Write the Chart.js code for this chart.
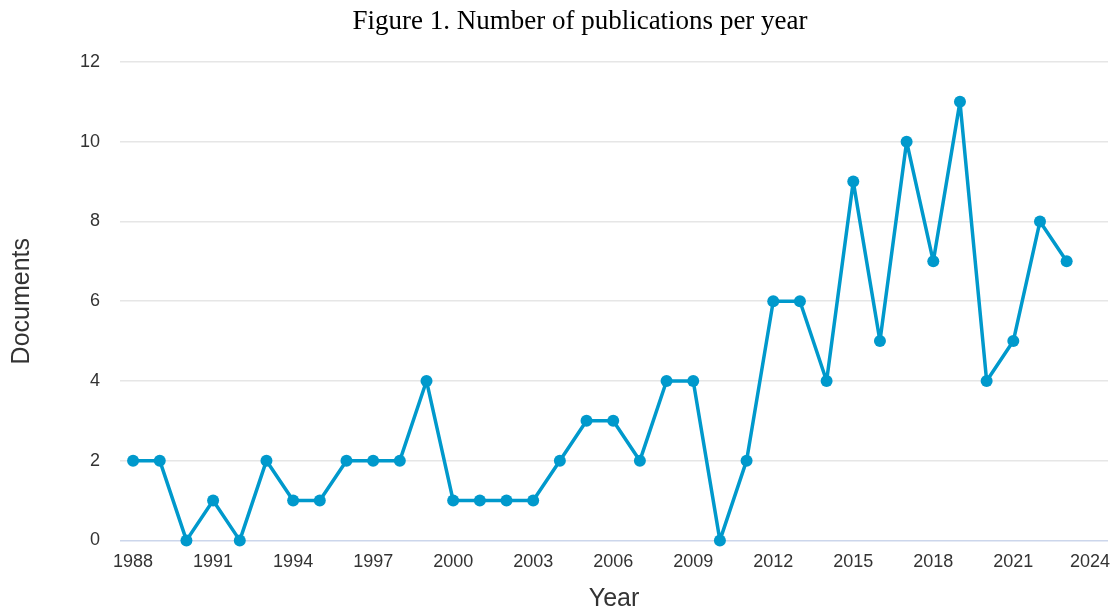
<!DOCTYPE html>
<html>
<head>
<meta charset="utf-8">
<script src="https://cdn.jsdelivr.net/npm/chart.js@4.4.1/dist/chart.umd.min.js"></script>
<style>
  html, body { margin: 0; padding: 0; background: #fff; }
  #wrap { position: relative; width: 1114px; height: 609px; }
  #titulo {
    position: absolute; top: 5px; left: 580px; transform: translateX(-50%);
    font-family: "Liberation Serif", "Times New Roman", serif; font-size: 27px; color: #000;
    white-space: nowrap;
  }
  #cv { position: absolute; left: 0; top: 0; }
</style>
</head>
<body>
<div id="wrap">
  <canvas id="cv" width="1114" height="609"></canvas>
  <div id="titulo">Figure 1. Number of publications per year</div>
</div>
<script>
// dados
const anos = [1988, 1989, 1990, 1991, 1992, 1993, 1994, 1995, 1996, 1997, 1998, 1999,
  2000, 2001, 2002, 2003, 2004, 2005, 2006, 2007, 2008, 2009, 2010, 2011,
  2012, 2013, 2014, 2015, 2016, 2017, 2018, 2019, 2020, 2021, 2022, 2023];
const documentos = [2, 2, 0, 1, 0, 2, 1, 1, 2, 2, 2, 4,
  1, 1, 1, 1, 2, 3, 3, 2, 4, 4, 0, 2,
  6, 6, 4, 9, 5, 10, 7, 11, 4, 5, 8, 7];
const ticksX = [1988, 1991, 1994, 1997, 2000, 2003, 2006, 2009, 2012, 2015, 2018, 2021, 2024];
const ticksY = [0, 2, 4, 6, 8, 10, 12];

const cor = '#0099cc';
const corTexto = '#333';
const fonte = '"Liberation Sans", Arial, sans-serif';
const ultimoX = ticksX[ticksX.length - 1];

// o último rótulo do eixo x fica empurrado para dentro do gráfico
const rotuloFinal = {
  id: 'rotuloFinal',
  afterDraw(chart) {
    const x = chart.scales.x;
    const c = chart.ctx;
    c.save();
    c.font = '18px ' + fonte;
    c.fillStyle = corTexto;
    c.textAlign = 'right';
    c.textBaseline = 'middle';
    c.fillText(String(ultimoX), chart.width - 4, x.top + 11 + 10.8);
    c.restore();
  }
};

const ctx = document.getElementById('cv').getContext('2d');
new Chart(ctx, {
  type: 'line',
  data: {
    datasets: [{
      data: anos.map((a, i) => ({ x: a, y: documentos[i] })),
      borderColor: cor,
      backgroundColor: cor,
      borderWidth: 3.5,
      borderJoinStyle: 'round',
      borderCapStyle: 'round',
      pointRadius: 6,
      pointBackgroundColor: cor,
      pointBorderWidth: 0,
      tension: 0,
      clip: false
    }]
  },
  options: {
    responsive: false,
    animation: false,
    layout: { padding: { top: 62, right: 0, left: 0, bottom: -5 } },
    plugins: { legend: { display: false }, tooltip: { enabled: false } },
    scales: {
      x: {
        type: 'linear',
        min: 1987.51,
        max: 2024.55,
        afterBuildTicks: axis => { axis.ticks = ticksX.map(v => ({ value: v })); },
        afterFit: axis => { axis.paddingRight = 0; },
        grid: { display: false, drawTicks: false },
        border: { display: false },
        ticks: {
          color: c => c.tick && c.tick.value === ultimoX ? 'rgba(0,0,0,0)' : corTexto,
          font: { family: fonte, size: 18 }, padding: 11, maxRotation: 0, autoSkip: false,
          callback: v => String(v)
        },
        title: { display: true, text: 'Year', color: corTexto, font: { family: fonte, size: 25 }, padding: { top: 0, bottom: 0 } }
      },
      y: {
        min: 0,
        max: 12,
        afterBuildTicks: axis => { axis.ticks = ticksY.map(v => ({ value: v })); },
        grid: {
          color: c => c.tick.value === 0 ? '#ccd6eb' : '#e6e6e6',
          lineWidth: 1.5,
          drawTicks: false
        },
        border: { display: false },
        ticks: { color: corTexto, font: { family: fonte, size: 18 }, padding: 20 },
        title: { display: true, text: 'Documents', color: corTexto, font: { family: fonte, size: 25 }, padding: { top: 7, bottom: 23 } }
      }
    }
  },
  plugins: [rotuloFinal]
});
</script>
</body>
</html>
